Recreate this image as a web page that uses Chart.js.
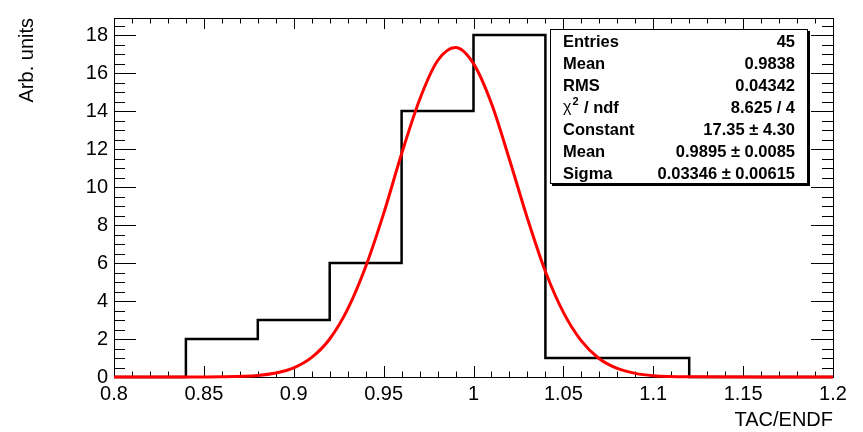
<!DOCTYPE html>
<html>
<head>
<meta charset="utf-8">
<script src="https://cdn.jsdelivr.net/npm/chart.js@4.4.0/dist/chart.umd.min.js"></script>
<style>
  html, body { margin: 0; padding: 0; background: #fff; }
  #wrap { width: 863px; height: 432px; }
</style>
</head>
<body>
<div id="wrap"><canvas id="chart" width="863" height="432"></canvas></div>
<script>
// histogram: left bin edges and counts
const binEdges = [0.84, 0.88, 0.92, 0.96, 1.00, 1.04, 1.08, 1.12];
const binCounts = [2, 3, 6, 14, 18, 1, 1];

// red fit curve
const fitX = [0.80, 0.84, 0.86, 0.88, 0.89, 0.90, 0.91, 0.92, 0.93, 0.94, 0.95, 0.96, 0.97, 0.98, 0.99,
  1.00, 1.01, 1.02, 1.03, 1.04, 1.05, 1.06, 1.07, 1.08, 1.09, 1.10, 1.12, 1.16, 1.20];
const fitY = [0, 0, 0.01, 0.08, 0.21, 0.48, 1.03, 2.0, 3.57, 5.8, 8.6, 11.75, 14.6, 16.65, 17.35,
  16.5, 14.4, 11.45, 8.35, 5.55, 3.4, 1.9, 0.96, 0.45, 0.19, 0.07, 0.01, 0, 0];

const xTicks = [0.8, 0.85, 0.9, 0.95, 1.0, 1.05, 1.1, 1.15, 1.2];
const xTickLabels = ['0.8', '0.85', '0.9', '0.95', '1', '1.05', '1.1', '1.15', '1.2'];
const yTicks = [0, 2, 4, 6, 8, 10, 12, 14, 16, 18];
const yTickLabels = ['0', '2', '4', '6', '8', '10', '12', '14', '16', '18'];

const statLabels = ['Entries', 'Mean', 'RMS', 'chi2', 'Constant', 'Mean', 'Sigma'];
const statValues = ['45', '0.9838', '0.04342', '8.625 / 4', '17.35 \u00b1 4.30', '0.9895 \u00b1 0.0085', '0.03346 \u00b1 0.00615'];

const FONT = '"Liberation Sans", Arial, Helvetica, sans-serif';

const histPoints = [{ x: 0.8, y: 0 }];
binCounts.forEach((c, i) => histPoints.push({ x: binEdges[i], y: c }));
histPoints.push({ x: binEdges[binEdges.length - 1], y: 0 });
histPoints.push({ x: 1.2, y: 0 });

const fitPoints = fitX.map((x, i) => ({ x, y: fitY[i] }));

// ROOT style frame with inward ticks on all four sides
const framePlugin = {
  id: 'frame',
  beforeDatasetsDraw(chart) {
    const { ctx, chartArea: a } = chart;
    const xs = chart.scales.x, ys = chart.scales.y;
    ctx.save();
    ctx.strokeStyle = '#000';
    ctx.lineWidth = 1;
    ctx.strokeRect(a.left + 0.5, a.top + 0.5, a.right - a.left, a.bottom - a.top);
    ctx.beginPath();
    for (let k = 0; k <= 40; k++) {
      const px = Math.round(xs.getPixelForValue(0.8 + k * 0.01)) + 0.5;
      const len = k % 5 === 0 ? 11 : 5.5;
      ctx.moveTo(px, a.bottom); ctx.lineTo(px, a.bottom - len);
      ctx.moveTo(px, a.top); ctx.lineTo(px, a.top + len);
    }
    for (let k = 0; k <= 37; k++) {
      const py = Math.round(ys.getPixelForValue(k * 0.5)) + 0.5;
      const len = k % 4 === 0 ? 22 : 11;
      ctx.moveTo(a.left, py); ctx.lineTo(a.left + len, py);
      ctx.moveTo(a.right, py); ctx.lineTo(a.right - len, py);
    }
    ctx.stroke();
    ctx.restore();
  },
  afterDraw(chart) {
    const { ctx } = chart;
    const bx = 550, by = 29, bw = 258, bh = 155;
    ctx.save();
    ctx.fillStyle = '#000';
    ctx.fillRect(bx + 2, by + bh, bw, 2);
    ctx.fillRect(bx + bw, by + 2, 2, bh);
    ctx.fillStyle = '#fff';
    ctx.fillRect(bx, by, bw, bh);
    ctx.strokeStyle = '#000';
    ctx.lineWidth = 1;
    ctx.strokeRect(bx + 0.5, by + 0.5, bw - 1, bh - 1);
    ctx.fillStyle = '#000';
    ctx.textBaseline = 'middle';
    statLabels.forEach((lab, i) => {
      const y = 42 + i * 22;
      ctx.textAlign = 'left';
      if (lab === 'chi2') {
        ctx.font = '16px ' + FONT;
        ctx.fillText('\u03c7', 563, y);
        const w = ctx.measureText('\u03c7').width;
        ctx.font = 'bold 11px ' + FONT;
        ctx.fillText('2', 563 + w + 1, y - 6);
        ctx.font = 'bold 16.5px ' + FONT;
        ctx.fillText(' / ndf', 563 + w + 8, y);
      } else {
        ctx.font = 'bold 16.5px ' + FONT;
        ctx.fillText(lab, 563, y);
      }
      ctx.font = 'bold 16.5px ' + FONT;
      ctx.textAlign = 'right';
      ctx.fillText(statValues[i], 795, y);
    });
    ctx.restore();
  }
};

new Chart(document.getElementById('chart'), {
  type: 'scatter',
  data: {
    datasets: [
      {
        data: histPoints,
        showLine: true,
        stepped: true,
        borderColor: '#000',
        borderWidth: 2.5,
        borderJoinStyle: 'miter',
        pointRadius: 0,
        fill: false,
        clip: false,
        order: 1
      },
      {
        data: fitPoints,
        showLine: true,
        cubicInterpolationMode: 'monotone',
        borderColor: '#ff0000',
        borderWidth: 3,
        pointRadius: 0,
        fill: false,
        clip: false,
        order: 0
      }
    ]
  },
  options: {
    responsive: false,
    animation: false,
    devicePixelRatio: 1,
    layout: { padding: { top: 9, right: 30, left: 0, bottom: 0 } },
    plugins: { legend: { display: false }, tooltip: { enabled: false } },
    scales: {
      x: {
        type: 'linear',
        min: 0.8,
        max: 1.2,
        grid: { display: false, drawTicks: false },
        border: { display: false },
        afterBuildTicks: s => { s.ticks = xTicks.map(v => ({ value: v })); },
        afterFit: s => { s.height = 55; },
        ticks: {
          autoSkip: false,
          maxRotation: 0,
          padding: 5,
          color: '#000',
          font: { family: FONT, size: 20 },
          callback: (v, i) => xTickLabels[i]
        },
        title: {
          display: true,
          text: 'TAC/ENDF',
          align: 'end',
          color: '#000',
          font: { family: FONT, size: 20 },
          padding: { top: 0, bottom: 0 }
        }
      },
      y: {
        min: 0,
        max: 18.9,
        grid: { display: false, drawTicks: false },
        border: { display: false },
        afterBuildTicks: s => { s.ticks = yTicks.map(v => ({ value: v })); },
        afterFit: s => { s.width = 114; },
        ticks: {
          padding: 6,
          color: '#000',
          font: { family: FONT, size: 20 },
          callback: (v, i) => yTickLabels[i]
        },
        title: {
          display: true,
          text: 'Arb. units',
          align: 'end',
          color: '#000',
          font: { family: FONT, size: 20 },
          padding: { top: 15, bottom: 0 }
        }
      }
    }
  },
  plugins: [framePlugin]
});
</script>
</body>
</html>
